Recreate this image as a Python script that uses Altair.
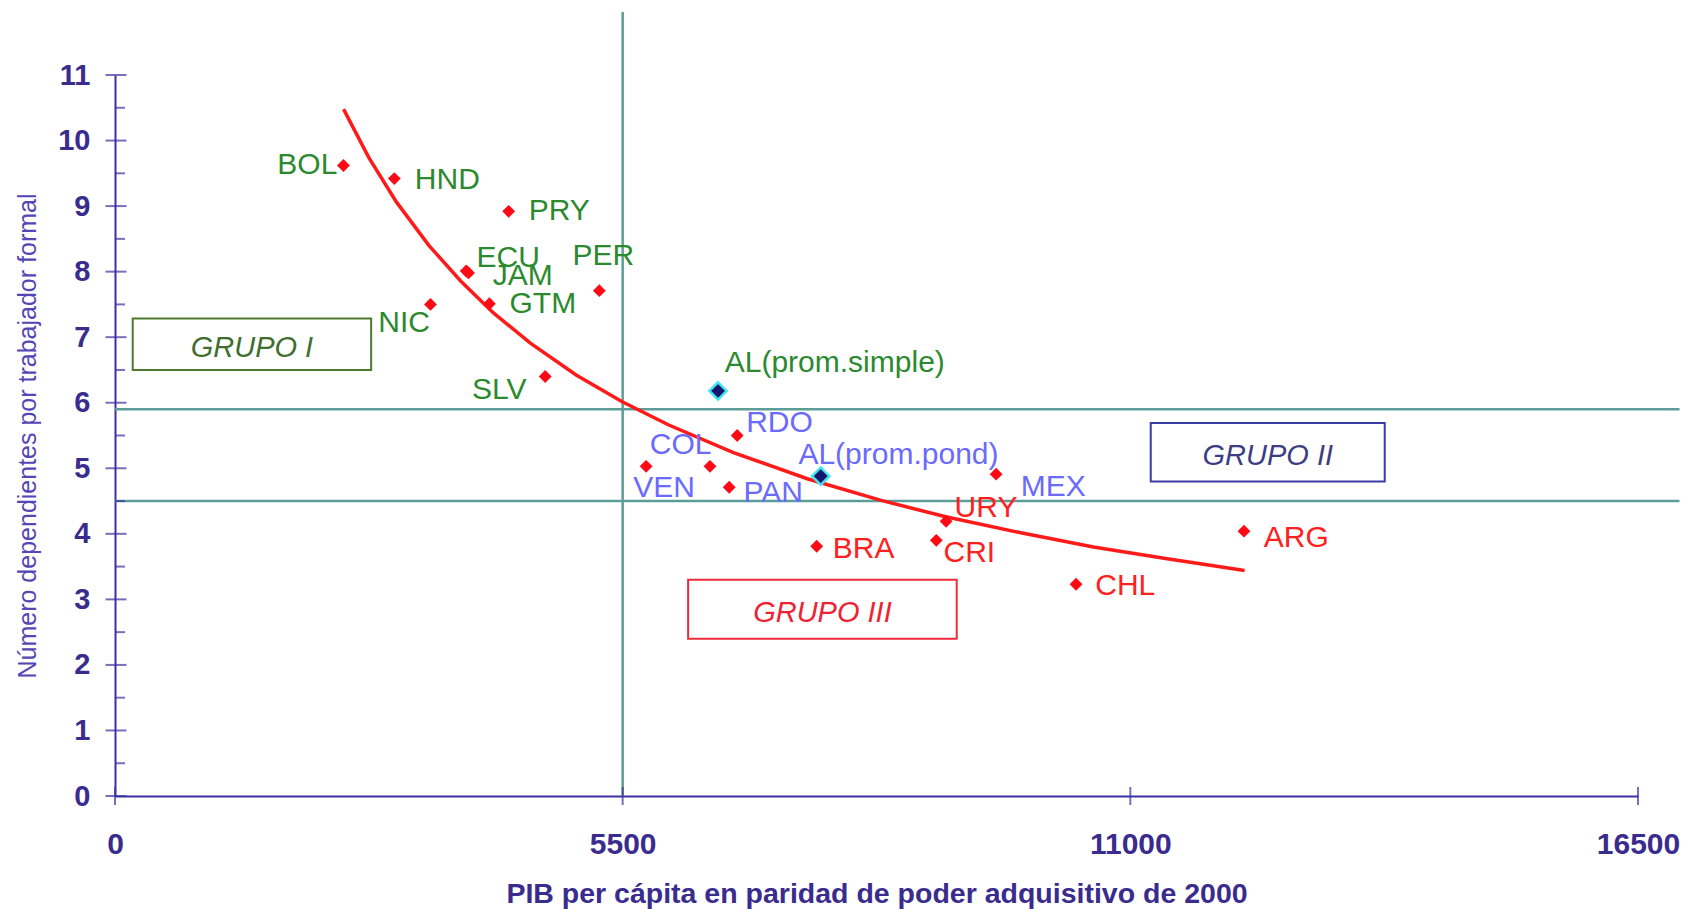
import altair as alt
import pandas as pd

# ---------------- data ----------------
countries = ["BOL", "HND", "PRY", "ECU", "JAM", "GTM", "PER", "NIC", "SLV",
             "RDO", "COL", "VEN", "PAN", "MEX",
             "URY", "CRI", "BRA", "CHL", "ARG"]
pib = [2475, 3026, 4265, 3805, 3830, 4056, 5247, 3418, 4661,
       6741, 6446, 5754, 6654, 9546,
       9004, 8898, 7602, 10412, 12231]
dep = [9.62, 9.42, 8.92, 8.01, 7.98, 7.51, 7.71, 7.50, 6.40,
       5.50, 5.03, 5.03, 4.71, 4.91,
       4.19, 3.90, 3.81, 3.23, 4.04]
grupo = ["I"] * 9 + ["II"] * 5 + ["III"] * 5
label_x = [1759, 3248, 4482, 3917, 4093, 4274, 4957, 2853, 3868,
           6838, 5793, 5614, 6809, 9813,
           9096, 8976, 7776, 10620, 12445]
label_y = [9.62, 9.40, 8.92, 8.21, 7.93, 7.50, 8.24, 7.22, 6.20,
           5.69, 5.36, 4.70, 4.62, 4.71,
           4.40, 3.71, 3.77, 3.21, 3.93]

avg_names = ["AL(prom.simple)", "AL(prom.pond)"]
avg_x = [6533, 7646]
avg_y = [6.18, 4.88]
avg_grupo = ["I", "II"]
avg_label_x = [6606, 7404]
avg_label_y = [6.61, 5.20]

# red trend curve
curve_x = [2476, 2750, 3050, 3400, 3750, 4100, 4500, 5000, 5500, 6000,
           6700, 7500, 8300, 9000, 9800, 10600, 11400, 12238]
curve_y = [10.48, 9.74, 9.06, 8.40, 7.85, 7.37, 6.91, 6.42, 6.01, 5.66,
           5.24, 4.84, 4.51, 4.26, 4.02, 3.80, 3.62, 3.44]

# reference lines
h_lines = [5.9, 4.5]
h_line_x = [0, 16950]
v_line = 5500
v_line_y = [0, 11.96]

# group boxes
box_names = ["GRUPO I", "GRUPO II", "GRUPO III"]
box_x1 = [192, 11221, 6209]
box_x2 = [2775, 13756, 9119]
box_y1 = [6.50, 4.80, 2.40]
box_y2 = [7.285, 5.69, 3.30]

x_ticks = [0, 5500, 11000, 16500]
y_ticks = list(range(0, 12))
y_minor = [v + 0.5 for v in range(0, 11)]

# ---------------- styles ----------------
FONT = "Liberation Sans"
AX = "#3d30a0"
AXTXT = "#3a2c8e"
TEAL = "#5c9e97"
label_color_map = {"I": "#2b8a2e", "II": "#6a6aff", "III": "#ff2020"}
box_stroke = ["#4d7a2e", "#3b3ba8", "#ee2b3a"]
box_text = ["#3f6e2e", "#3d3d85", "#ee2233"]

xs = alt.Scale(domain=[0, 16500], nice=False, zero=False)
ys = alt.Scale(domain=[0, 11], nice=False, zero=False)

x_axis = alt.Axis(values=x_ticks, format="d", ticks=False, grid=False,
                  domainColor=AX, domainWidth=2, labelFlush=False,
                  labelColor=AXTXT, labelFont=FONT, labelFontSize=30,
                  labelFontWeight="bold", labelPadding=33,
                  title="PIB per cápita en paridad de poder adquisitivo de 2000",
                  titleFont=FONT, titleFontSize=28.5, titleFontWeight="bold",
                  titleColor=AXTXT, titleBaseline="alphabetic", titleY=106)
y_axis = alt.Axis(values=y_ticks, format="d", ticks=False, grid=False,
                  domainColor=AX, domainWidth=2, labelFlush=False,
                  labelColor=AXTXT, labelFont=FONT, labelFontSize=29,
                  labelFontWeight="bold", labelPadding=25,
                  title="Número dependientes por trabajador formal",
                  titleFont=FONT, titleFontSize=25, titleFontWeight="normal",
                  titleColor="#5546b5", titlePadding=17)


def X(f):
    return alt.X(f, type="quantitative", scale=xs, axis=x_axis)


def Y(f):
    return alt.Y(f, type="quantitative", scale=ys, axis=y_axis)


pts = pd.DataFrame({"pais": countries, "pib": pib, "dep": dep, "grupo": grupo,
                    "lx": label_x, "ly": label_y})
avg = pd.DataFrame({"pais": avg_names, "pib": avg_x, "dep": avg_y,
                    "grupo": avg_grupo, "lx": avg_label_x, "ly": avg_label_y})
labels = pd.concat([pts, avg], ignore_index=True)
labels["col"] = labels["grupo"].map(label_color_map)
curve = pd.DataFrame({"pib": curve_x, "dep": curve_y})
hl = pd.DataFrame({"y": h_lines, "x1": [h_line_x[0]] * len(h_lines),
                   "x2": [h_line_x[1]] * len(h_lines)})
vl = pd.DataFrame({"x": [v_line], "y1": [v_line_y[0]], "y2": [v_line_y[1]]})
boxes = pd.DataFrame({"name": box_names, "x1": box_x1, "x2": box_x2,
                      "y1": box_y1, "y2": box_y2,
                      "stroke": box_stroke, "tcol": box_text})
boxes["cx"] = (boxes["x1"] + boxes["x2"]) / 2
boxes["cy"] = (boxes["y1"] + boxes["y2"]) / 2
ytk = pd.DataFrame({"x": [0] * len(y_ticks), "y": y_ticks})
ymn = pd.DataFrame({"x": [0] * len(y_minor), "y": y_minor})
xtk = pd.DataFrame({"x": x_ticks, "y": [0] * len(x_ticks)})

hrules = alt.Chart(hl).mark_rule(color=TEAL, strokeWidth=2.5).encode(
    x=X("x1"), x2="x2", y=Y("y"))
vrule = alt.Chart(vl).mark_rule(color=TEAL, strokeWidth=2.5).encode(
    x=X("x"), y=Y("y1"), y2="y2")

ytick_major = alt.Chart(ytk).mark_tick(orient="horizontal", size=21, thickness=2,
                                       color=AX, xOffset=1).encode(x=X("x"), y=Y("y"))
ytick_minor = alt.Chart(ymn).mark_tick(orient="horizontal", size=10, thickness=2,
                                       color=AX, xOffset=5).encode(x=X("x"), y=Y("y"))
xtick = alt.Chart(xtk).mark_tick(orient="vertical", size=18, thickness=2,
                                 color=AX).encode(x=X("x"), y=Y("y"))

line = alt.Chart(curve).mark_line(color="#ff1a1a", strokeWidth=3.5).encode(
    x=X("pib"), y=Y("dep"))

rects = alt.Chart(boxes).mark_rect(fill="white", strokeWidth=2).encode(
    x=X("x1"), x2="x2", y=Y("y1"), y2="y2",
    stroke=alt.Stroke("stroke:N", scale=None))
rect_text = alt.Chart(boxes).mark_text(font=FONT, fontSize=29, fontStyle="italic",
                                       align="center", baseline="middle", dy=4).encode(
    x=X("cx"), y=Y("cy"), text="name:N",
    color=alt.Color("tcol:N", scale=None))

points = alt.Chart(pts).mark_point(shape="diamond", filled=True, size=165,
                                   color="#ff0a14", opacity=1).encode(
    x=X("pib"), y=Y("dep"))
avg_points = alt.Chart(avg).mark_point(shape="diamond", filled=True, size=300,
                                       color="#16166e", stroke="#40e6f0",
                                       strokeWidth=2.5, opacity=1).encode(
    x=X("pib"), y=Y("dep"))

texts = alt.Chart(labels).mark_text(font=FONT, fontSize=30, align="left",
                                    baseline="middle").encode(
    x=X("lx"), y=Y("ly"), text="pais:N",
    color=alt.Color("col:N", scale=None))

chart = alt.layer(hrules, vrule, line, rects, rect_text, ytick_major, ytick_minor,
                  xtick, points, avg_points, texts).properties(
    width=1523, height=721,
    autosize=alt.AutoSizeParams(type="none"),
    padding={"left": 107, "top": 67, "right": 44, "bottom": 114},
    background="white",
).configure_view(strokeWidth=0)

chart.save("out.html", embed_options={"renderer": "svg", "actions": False})
